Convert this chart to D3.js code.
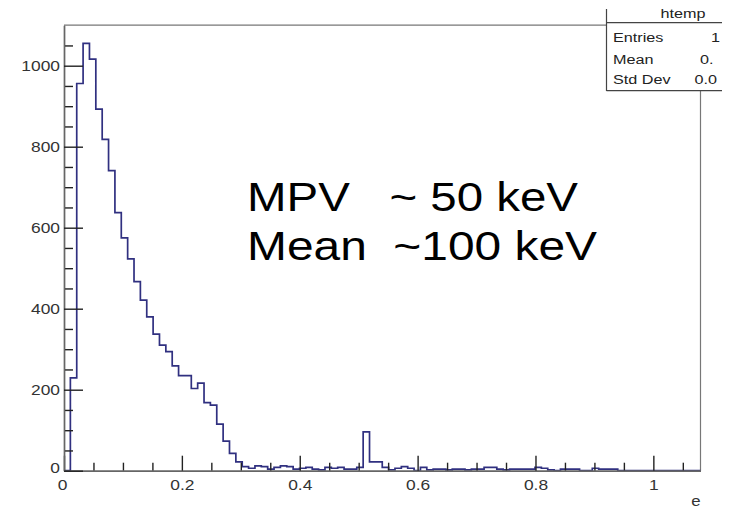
<!DOCTYPE html>
<html><head><meta charset="utf-8">
<script src="https://cdn.jsdelivr.net/npm/d3@7"></script>
<style>
html,body{margin:0;padding:0;background:#fff;}
text{font-family:"Liberation Sans",Arial,Helvetica,sans-serif;}
</style></head>
<body>
<svg id="c" width="736" height="509"></svg>
<script>
// ---- data ----
const binWidth = 0.0108;
const counts = [
  0, 229, 956, 1055, 1016, 893, 818, 741, 637, 575,
  523, 467, 421, 380, 337, 310, 294, 259, 235, 235,
  203, 216, 168, 162, 115, 73, 43, 22, 10, 6,
  12, 10, 4, 8, 12, 10, 4, 6, 8, 4,
  2, 8, 6, 8, 4, 4, 8, 96, 22, 22,
  8, 2, 6, 10, 6, 0, 8, 2, 4, 4,
  2, 4, 4, 2, 4, 4, 8, 8, 4, 2,
  4, 4, 4, 4, 8, 6, 2, 0, 4, 4,
  4, 0, 0, 6, 4, 4, 4, 0, 0, 0,
  0, 0, 0, 0, 0, 0, 0, 0, 0, 0
];
const xMajorTicks = [0, 0.2, 0.4, 0.6, 0.8, 1];
const xMinorTicks = [0.05,0.1,0.15,0.25,0.3,0.35,0.45,0.5,0.55,0.65,0.7,0.75,0.85,0.9,0.95,1.05];
const yMajorTicks = [0, 200, 400, 600, 800, 1000];
const yMinorTicks = [50,100,150,250,300,350,450,500,550,650,700,750,850,900,950,1050];
const xDomain = [0, 1.08];
const yDomain = [0, 1100];
const annotations = ["MPV   ~ 50 keV", "Mean  ~100 keV"];
const statsTitle = "htemp";
const statsLabels = ["Entries", "Mean", "Std Dev"];
// only the visible (cropped) part of the stats values is shown in the reference
const statsValues = ["1", "0.", "0.0"];
const axisTitle = "e";

// ---- drawing ----
const svg = d3.select("#c");
const SX = 1.2;
function stretch(sel, origin){
  return sel.style("transform-box","fill-box").style("transform-origin",origin).style("transform","scaleX("+SX+")");
}
const x = d3.scaleLinear().domain(xDomain).range([64, 700.5]);
const y = d3.scaleLinear().domain(yDomain).range([470.7, 25.2]);

const root = svg.append("g");

// frame
root.append("line").attr("x1",x(0)).attr("x2",x(xDomain[1])).attr("y1",y(yDomain[1])).attr("y2",y(yDomain[1])).attr("stroke","#777").attr("stroke-width",1.2);
root.append("line").attr("x1",x(xDomain[1])).attr("x2",x(xDomain[1])).attr("y1",y(yDomain[1])).attr("y2",y(0)).attr("stroke","#777").attr("stroke-width",1.2);

// histogram path
const pts = [[0,0]];
counts.forEach((c,i)=>{ pts.push([i*binWidth, c]); pts.push([(i+1)*binWidth, c]); });
pts.push([counts.length*binWidth, 0]);
const line = d3.line().x(d=>x(d[0])).y(d=>y(d[1]));
root.append("path").attr("d", line(pts)).attr("fill","none")
  .attr("stroke","#303080").attr("stroke-width",1.7).attr("stroke-linejoin","miter");

// axes
const gx = root.append("g").attr("transform","translate(0,"+y(0)+")");
gx.call(d3.axisBottom(x).tickValues(xMinorTicks).tickSize(-8).tickSizeOuter(0).tickFormat(""));
const gx2 = root.append("g").attr("transform","translate(0,"+y(0)+")");
gx2.call(d3.axisBottom(x).tickValues(xMajorTicks).tickSize(-15).tickSizeOuter(0).tickPadding(9.5).tickFormat(d3.format("")));
const gy = root.append("g").attr("transform","translate("+x(0)+",0)");
gy.call(d3.axisLeft(y).tickValues(yMinorTicks).tickSize(-9).tickSizeOuter(0).tickFormat(""));
const gy2 = root.append("g").attr("transform","translate("+x(0)+",0)");
gy2.call(d3.axisLeft(y).tickValues(yMajorTicks).tickSize(-19).tickSizeOuter(0).tickPadding(4).tickFormat(d3.format("")));
[gx,gx2,gy,gy2].forEach(g=>{
  g.select(".domain").attr("stroke","#666").attr("stroke-width",1.4);
  g.selectAll(".tick line").attr("stroke","#222").attr("stroke-width",1.4);
});
gx2.selectAll(".tick text").attr("font-size",14.5).attr("fill","#333").attr("font-family",null);
stretch(gx2.selectAll(".tick text"),"50% 50%");
gy2.selectAll(".tick text").attr("font-size",14.5).attr("fill","#333").attr("font-family",null);
stretch(gy2.selectAll(".tick text"),"100% 50%");
gx2.selectAll(".tick text").filter(d=>d===0).attr("x",-2);
gy2.selectAll(".tick text").filter(d=>d===0).attr("dy","0.1em");

// axis title
stretch(root.append("text").attr("x",696).attr("y",506).attr("text-anchor","middle").attr("font-size",14).attr("fill","#333").text(axisTitle),"50% 50%");

// annotations
const ann = root.append("g");
ann.selectAll("text").data(annotations).join("text")
  .attr("x",247).attr("y",(d,i)=>211+i*49)
  .attr("font-size",41).attr("fill","#000")
  .style("white-space","pre")
  .attr("textLength",(d,i)=>i===0?331:350).attr("lengthAdjust","spacingAndGlyphs")
  .text(d=>d);

// stats box
const sb = root.append("g");
sb.append("rect").attr("x",606.5).attr("y",0).attr("width",130).attr("height",91).attr("fill","#fff").attr("stroke","none");
sb.append("line").attr("x1",606.5).attr("x2",606.5).attr("y1",9).attr("y2",91).attr("stroke","#444").attr("stroke-width",1.2);
sb.append("line").attr("x1",606.5).attr("x2",722).attr("y1",22.7).attr("y2",22.7).attr("stroke","#444").attr("stroke-width",1.2);
sb.append("line").attr("x1",606.5).attr("x2",722).attr("y1",90.7).attr("y2",90.7).attr("stroke","#444").attr("stroke-width",1.2);
stretch(sb.append("text").attr("x",683).attr("y",18.3).attr("text-anchor","middle").attr("font-size",13.5).attr("fill","#222").text(statsTitle),"50% 50%");
const rowsY = [41.7, 64.3, 84];
const valX = [711, 700, 694.5];
statsLabels.forEach((l,i)=>{
  stretch(sb.append("text").attr("x",613).attr("y",rowsY[i]).attr("font-size",13.5).attr("fill","#222").text(l),"0% 50%");
  stretch(sb.append("text").attr("x",valX[i]).attr("y",rowsY[i]).attr("font-size",13.5).attr("fill","#222").text(statsValues[i]),"0% 50%");
});
</script>
</body></html>
